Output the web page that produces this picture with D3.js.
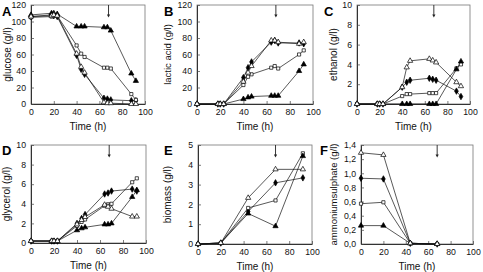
<!DOCTYPE html>
<html>
<head>
<meta charset="utf-8">
<script src="https://cdn.jsdelivr.net/npm/d3@7"></script>
<style>
body { margin: 0; background: #fff; }
svg { font-family: "Liberation Sans", Arial, sans-serif; }
</style>
</head>
<body>
<svg id="chart" width="483" height="272"></svg>
<script>
// sampling times (h)
const timeFine = [0, 18, 20, 23, 40, 44, 47, 64, 67, 70, 88, 92];
const timeBiomass = [0, 20, 44, 68, 92];
const timeAmmonium = [0, 20, 44, 68];
const arrowTime = 68;
const xTicks = [0, 20, 40, 60, 80, 100];

// series order: filled diamond, open square, filled triangle, open triangle
const seriesMarkers = ["diamond", "square", "triangleFilled", "triangleOpen"];

const glucose = [
    [106, 108, 107, 106, 59, 42, 36, 7, 6, 5, 4, 4],
    [105, 106, 107, 107, 71, 61, 57, 44, 44, 43, 12, 5],
    [108, 110, 110, 109, 94, 94, 94, 93, 93, 89, 37, 28],
    [106, 107, 108, 107, 61, 45, 38, 2, 1, 1, 0, 0]
];
const lacticAcid = [
    [0, 0, 0, 0, 32, 44, 51, 75, 77, 74, 74, 73],
    [0, 0, 0, 0, 23, 33, 36, 44, 46, 43, 60, 65],
    [0, 0, 0, 0, 6, 8, 9, 10, 10, 10, 40, 48],
    [0, 0, 0, 0, 27, 38, 46, 77, 77, 75, 73, 75]
];
const ethanol = [
    [0, 0, 0, 0, 1.7, 2.2, 2.4, 2.6, 2.5, 2.4, 1.3, 0.75],
    [0, 0, 0, 0, 0.8, 1.0, 1.0, 1.1, 1.1, 1.1, 3.6, 4.0],
    [0, 0, 0, 0, 0, 0, 0, 0, 0, 0, 3.5, 4.3],
    [0, 0, 0, 0, 1.7, 3.7, 4.36, 4.56, 4.4, 4.2, 2.2, 1.8]
];
const glycerol = [
    [0.2, 0.2, 0.2, 0.2, 2.0, 2.5, 2.9, 5.0, 5.1, 5.3, 5.5, 5.3],
    [0.2, 0.2, 0.2, 0.2, 1.75, 2.15, 2.4, 3.8, 3.95, 4.0, 6.2, 6.6],
    [0.2, 0.2, 0.2, 0.2, 1.3, 1.5, 1.6, 1.9, 1.9, 2.0, 4.7, 5.4],
    [0.2, 0.2, 0.2, 0.2, 1.9, 2.35, 2.65, 3.9, 3.7, 3.5, 2.7, 2.7]
];
const biomass = [
    [0, 0.05, 1.64, 3.09, 3.34],
    [0, 0.05, 1.82, 2.2, 4.58],
    [0, 0.05, 1.54, 0.9, 4.44],
    [0, 0.05, 2.33, 3.77, 3.77]
];
const ammonium = [
    [0.93, 0.92, 0.01, 0],
    [0.57, 0.59, 0.01, 0],
    [0.26, 0.26, 0.01, 0],
    [1.29, 1.26, 0.01, 0]
];

const panels = [
    { letter: "A", title: "glucose (g/l)", time: timeFine, data: glucose, yMax: 120, yStep: 20,
      left: 31, right: 145, top: 5, bottom: 104, titleX: 7, letterX: 2, letterY: 16 },
    { letter: "B", title: "lactic acid (g/l)", time: timeFine, data: lacticAcid, yMax: 120, yStep: 20,
      left: 197, right: 313, top: 5, bottom: 104, titleX: 168, letterX: 164, letterY: 16 },
    { letter: "C", title: "ethanol (g/l)", time: timeFine, data: ethanol, yMax: 10, yStep: 2,
      left: 357, right: 470, top: 5, bottom: 104, titleX: 333, letterX: 324, letterY: 16 },
    { letter: "D", title: "glycerol (g/l)", time: timeFine, data: glycerol, yMax: 10, yStep: 2,
      left: 31, right: 146, top: 145, bottom: 243, titleX: 6, letterX: 2, letterY: 155 },
    { letter: "E", title: "biomass (g/l)", time: timeBiomass, data: biomass, yMax: 5, yStep: 1,
      left: 198, right: 312, top: 145, bottom: 244, titleX: 167, letterX: 164, letterY: 155 },
    { letter: "F", title: "ammoniumsulphate (g/l)", time: timeAmmonium, data: ammonium, yMax: 1.4, yStep: 0.2,
      left: 361, right: 473, top: 145, bottom: 244, titleX: 334, letterX: 320, letterY: 155, comma: true }
];

const svg = d3.select("#chart");

panels.forEach(DrawPanel);

function DrawPanel(p) {
    const g = svg.append("g");

    const xScale = d3.scaleLinear().domain([0, 100]).range([p.left, p.right]);
    const yScale = d3.scaleLinear().domain([0, p.yMax]).range([p.bottom, p.top]);

    const yTicks = d3.range(0, p.yMax + p.yStep / 2, p.yStep);
    const yFormat = p.comma
        ? d => d3.format(".1f")(d).replace(".", ",")
        : d => d3.format("~g")(d);

    // frame (top and right)
    g.append("rect")
        .attr("x", p.left)
        .attr("y", p.top)
        .attr("width", p.right - p.left)
        .attr("height", p.bottom - p.top)
        .attr("fill", "none")
        .attr("stroke", "#777")
        .attr("stroke-width", 0.8);

    // axes with inside ticks
    const xAxis = g.append("g")
        .attr("transform", `translate(0, ${p.bottom})`)
        .call(d3.axisBottom(xScale).tickValues(xTicks).tickSize(-3).tickSizeOuter(0).tickPadding(5));
    const yAxis = g.append("g")
        .attr("transform", `translate(${p.left}, 0)`)
        .call(d3.axisLeft(yScale).tickValues(yTicks).tickFormat(yFormat).tickSize(-3).tickSizeOuter(0).tickPadding(5));

    [xAxis, yAxis].forEach(ax => {
        ax.select(".domain").attr("stroke", "#333").attr("stroke-width", 1);
        ax.selectAll(".tick line").attr("stroke", "#444").attr("stroke-width", 0.7);
        ax.selectAll(".tick text")
            .attr("fill", "#111")
            .style("font-size", "8.7px")
            .style("font-family", "'Liberation Sans', Arial, sans-serif");
    });

    // axis titles
    g.append("text")
        .attr("x", (p.left + p.right) / 2)
        .attr("y", p.bottom + 26)
        .attr("text-anchor", "middle")
        .style("font-size", "10px")
        .attr("fill", "#111")
        .text("Time (h)");

    g.append("text")
        .attr("transform", `translate(${p.titleX}, ${(p.top + p.bottom) / 2}) rotate(-90)`)
        .attr("dy", "0.35em")
        .attr("text-anchor", "middle")
        .style("font-size", p.title.length > 16 ? "9.5px" : "10px")
        .attr("fill", "#111")
        .text(p.title);

    // panel letter
    g.append("text")
        .attr("x", p.letterX)
        .attr("y", p.letterY)
        .style("font-size", "13px")
        .style("font-weight", "bold")
        .attr("fill", "#000")
        .text(p.letter);

    // arrow at the time of the shift
    const ax = xScale(arrowTime);
    g.append("line")
        .attr("x1", ax).attr("x2", ax)
        .attr("y1", p.top).attr("y2", p.top + 11)
        .attr("stroke", "#222")
        .attr("stroke-width", 0.9);
    g.append("path")
        .attr("d", `M${ax - 1.6},${p.top + 9.5} L${ax + 1.6},${p.top + 9.5} L${ax},${p.top + 12.5} Z`)
        .attr("fill", "#222");

    // lines
    const line = d3.line()
        .x((d, i) => xScale(p.time[i]))
        .y(d => yScale(d));

    p.data.forEach(series => {
        g.append("path")
            .attr("d", line(series))
            .attr("fill", "none")
            .attr("stroke", "#111")
            .attr("stroke-width", 0.7);
    });

    // markers
    const symbolFor = {
        diamond: { type: d3.symbolDiamond, size: 12, fill: "#000" },
        square: { type: d3.symbolSquare, size: 10, fill: "#fff" },
        triangleFilled: { type: d3.symbolTriangle, size: 12, fill: "#000" },
        triangleOpen: { type: d3.symbolTriangle, size: 12, fill: "#fff" }
    };

    p.data.forEach((series, s) => {
        const sym = symbolFor[seriesMarkers[s]];
        g.selectAll(null)
            .data(series)
            .join("path")
            .attr("transform", (d, i) => `translate(${xScale(p.time[i])}, ${yScale(d)})`)
            .attr("d", d3.symbol().type(sym.type).size(sym.size))
            .attr("fill", sym.fill)
            .attr("stroke", "#000")
            .attr("stroke-width", 0.7);
    });
}
</script>
</body>
</html>
